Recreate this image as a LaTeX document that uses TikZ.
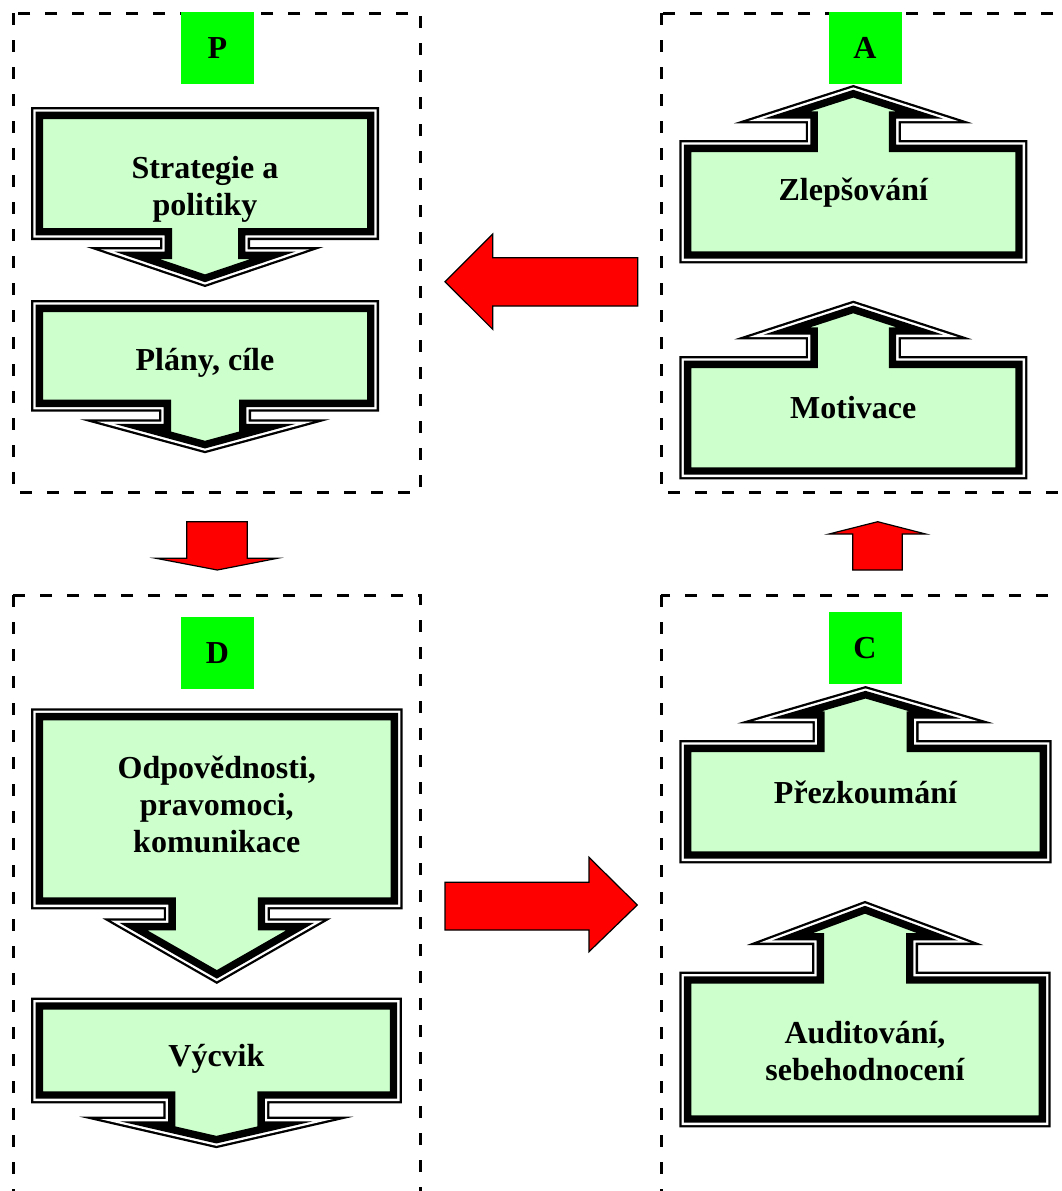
\documentclass[tikz,border=0pt]{standalone}
\usepackage{fontspec}
\setmainfont{Liberation Serif}
\definecolor{callgreen}{HTML}{CCFFCC}
\tikzset{
  dashbox/.style={draw=black, line width=3pt, dash pattern=on 12pt off 15pt},
  letterbox/.style={fill=green, minimum width=73pt, minimum height=72pt, inner sep=0pt, font=\fontsize{32}{37}\selectfont\bfseries},
  calltext/.style={align=center, font=\fontsize{32}{37}\selectfont\bfseries},
  redarrow/.style={fill=red, draw=black, line width=1.2pt}
}
% cx, half width, far edge, stem edge, stem half, head base, head half, tip
\newcommand{\callout}[8]{%
  \def\cpath{(#1-#2,#3) -- (#1+#2,#3) -- (#1+#2,#4) -- (#1+#5,#4) -- (#1+#5,#6) -- (#1+#7,#6) -- (#1,#8) -- (#1-#7,#6) -- (#1-#5,#6) -- (#1-#5,#4) -- (#1-#2,#4) -- cycle}%
  \draw[line width=12pt] \cpath;
  \draw[white, line width=7.4pt] \cpath;
  \fill[callgreen] \cpath;
  \begin{scope}
    \clip \cpath;
    \draw[line width=12pt] \cpath;
  \end{scope}
  \draw[line width=2.8pt] \cpath;
}
\begin{document}
\begin{tikzpicture}[x=1pt, y=-1pt, line join=miter, miter limit=25]
\clip (0,0) rectangle (1062,1191);
\fill[white] (0,0) rectangle (1062,1191);
\draw[dashbox] (13,13) rectangle (420,492);
\draw[dashbox] (661,13) rectangle (1080,492);
\draw[dashbox] (13,595) rectangle (420,1220);
\draw[dashbox] (661,595) rectangle (1080,1220);
\node[letterbox] (letP) at (217.5,48) {P};
\node[letterbox] (letA) at (865,48) {A};
\node[letterbox] (letD) at (217.5,653) {D};
\node[letterbox] (letC) at (865,648) {C};
\callout{205}{168}{113}{234}{39}{253}{82}{280.7}
\node[calltext] (strat) at (205,189) {Strategie a\\politiky};
\callout{205}{168}{306}{405.7}{40}{425.3}{80}{447}
\node[calltext] (plany) at (205,363) {Plány, cíle};
\callout{216.8}{179.8}{714.3}{903.3}{47}{924.3}{92}{977}
\node[calltext] (odpov) at (216.8,804.5) {Odpovědnosti,\\pravomoci,\\komunikace};
\callout{216.4}{179.4}{1003.7}{1097.3}{47}{1122.7}{84}{1142}
\node[calltext] (vycvik) at (216.4,1059) {Výcvik};
\callout{853.3}{168}{257.3}{146}{41.5}{117.3}{81}{91.3}
\node[calltext] (zlep) at (853.3,193) {Zlepšování};
\callout{853.3}{168}{473.3}{362}{41.5}{333.3}{81}{307}
\node[calltext] (motiv) at (853.3,408) {Motivace};
\callout{865.5}{180.2}{857.3}{746}{47}{717.3}{86}{692.3}
\node[calltext] (prezk) at (865.5,792) {Přezkoumání};
\callout{865}{179.7}{1121.3}{977.7}{47}{939}{85}{907.3}
\node[calltext] (audit) at (865,1051) {Auditování,\\sebehodnocení};
\draw[redarrow] (637.7,257.7) -- (492.7,257.7) -- (492.7,234) -- (445,281.7) -- (492.7,329.3) -- (492.7,306) -- (637.7,306) -- cycle;
\draw[redarrow] (186.7,521.7) -- (247.3,521.7) -- (247.3,558.3) -- (277.3,558.3) -- (217.3,570) -- (156,558.3) -- (186.7,558.3) -- cycle;
\draw[redarrow] (445,882.3) -- (589,882.3) -- (589,857.3) -- (637.3,905) -- (589,951.7) -- (589,930) -- (445,930) -- cycle;
\draw[redarrow] (852.7,570) -- (852.7,534) -- (829,534) -- (877.7,521.7) -- (925.7,534) -- (902.3,534) -- (902.3,570) -- cycle;
\end{tikzpicture}
\end{document}
